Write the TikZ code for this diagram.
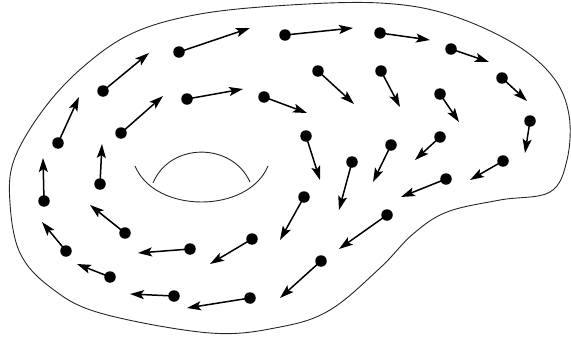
\documentclass[tikz,border=0pt]{standalone}
\usetikzlibrary{arrows.meta}
\begin{document}
\begin{tikzpicture}[x=1pt,y=-1pt,
  dot/.style={circle,fill=black,inner sep=0pt,minimum size=11.5pt},
  vec/.style={line width=1.5pt,-{Stealth[length=14pt,width=9pt,inset=3pt]}},
  outline/.style={line width=0.9pt,black!85}]
\useasboundingbox (0,0) rectangle (571,340);
% outer boundary
\draw[outline] plot[smooth cycle,tension=0.6] coordinates {
  (290,5) (380,3) (447,14) (513,43) (553,77) (569,115) (567,160) (550,192)
  (500,200) (447,212) (413,234) (380,268) (330,310) (280,327) (210,333)
  (100,313) (50,287) (20,253) (10,203) (14,160) (43,110) (83,67) (133,33) (200,14)};
% hole
\draw[outline] (135,166) .. controls (155,214) and (248,214) .. (268,166);
\draw[outline] (153,183) .. controls (170,142) and (232,142) .. (250,182);
% vectors
\foreach \i/\a/\b/\c/\d in {
  1/179/52/250/28, 2/285/35/353/28, 3/380/33/430/40, 4/451/49/489/62,
  5/502/78/527/101, 6/530/121/525/153, 7/503/161/470/180, 8/446/179/401/197,
  9/387/215/339/249, 10/321/261/280/298, 11/250/298/187/308, 12/174/296/130/294,
  13/110/277/77/264, 14/66/251/42/222, 15/44/201/43/158, 16/58/143/79/97,
  17/103/91/149/53, 18/121/133/163/96, 19/187/99/243/89, 20/264/97/307/113,
  21/318/71/354/104, 22/381/71/400/107, 23/440/94/459/122, 24/440/137/415/160,
  25/391/145/373/182, 26/352/162/339/210, 27/306/136/320/180, 28/304/197/280/240,
  29/252/239/210/264, 30/190/249/138/253, 31/125/233/90/205, 32/100/184/102/144}
{
  \node[dot] (d\i) at (\a,\b) {};
  \coordinate (t\i) at (\c,\d);
  \draw[vec] (d\i.center) -- (t\i);
}
\end{tikzpicture}
\end{document}
